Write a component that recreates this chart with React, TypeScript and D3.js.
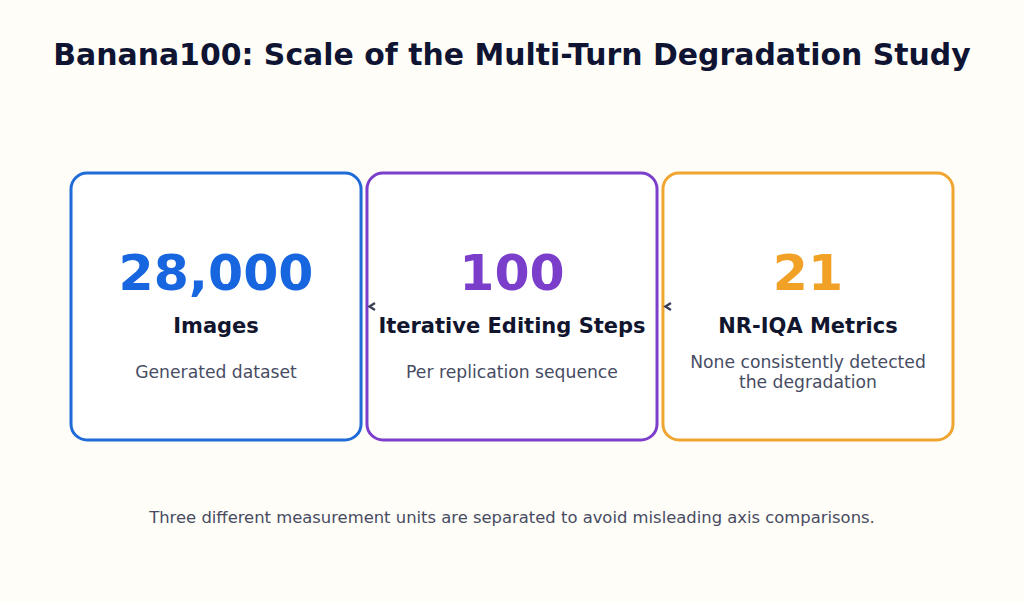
import { scaleBand, scaleLinear } from "d3";

const categories = ["Images", "Iterative Editing Steps", "NR-IQA Metrics"];
const values = ["28,000", "100", "21"];
const descriptions = [
  ["Generated dataset"],
  ["Per replication sequence"],
  ["None consistently detected", "the degradation"]
];
const colors = ["#1f6bd8", "#7c3fcb", "#f0a530"];
const numberColors = ["#1766e0", "#7a3ecb", "#f2a127"];

const title = "Banana100: Scale of the Multi-Turn Degradation Study";
const footnote =
  "Three different measurement units are separated to avoid misleading axis comparisons.";

const width = 1024;
const height = 602;
const fontFamily = "'DejaVu Sans', Verdana, sans-serif";

function App() {
  const x = scaleBand<string>()
    .domain(categories)
    .range([71, 953])
    .paddingInner(0.02)
    .paddingOuter(0);

  // vertical layout in card-relative units (0 = card top, 1 = card bottom)
  const y = scaleLinear().domain([0, 1]).range([173, 440]);

  return (
    <div style={{ position: "fixed", left: 0, top: 0 }}>
      <svg width={width} height={height} style={{ display: "block" }}>
        <rect x={0} y={0} width={width} height={height} fill="#fffdf7" />
        <text
          x={width / 2}
          y={65}
          textAnchor="middle"
          fontFamily={fontFamily}
          fontWeight="bold"
          fontSize={29.9}
          fill="#0f1433"
        >
          {title}
        </text>
        {categories.map((cat, i) => {
          const x0 = x(cat) ?? 0;
          const cx = x0 + x.bandwidth() / 2;
          const lines = descriptions[i];
          const descStart = lines.length > 1 ? 0.731 : 0.767;
          return (
            <g key={cat}>
              <rect
                x={x0}
                y={y(0)}
                width={x.bandwidth()}
                height={y(1) - y(0)}
                rx={16}
                ry={16}
                fill="#ffffff"
                stroke={colors[i]}
                strokeWidth={3}
              />
              <text
                x={cx}
                y={y(0.438)}
                textAnchor="middle"
                fontFamily={fontFamily}
                fontWeight="bold"
                fontSize={50.5}
                fill={numberColors[i]}
              >
                {values[i]}
              </text>
              <text
                x={cx}
                y={y(0.598)}
                textAnchor="middle"
                fontFamily={fontFamily}
                fontWeight="bold"
                fontSize={21}
                fill="#11152e"
              >
                {cat}
              </text>
              {lines.map((line, j) => (
                <text
                  key={line}
                  x={cx}
                  y={y(descStart) + j * 20}
                  textAnchor="middle"
                  fontFamily={fontFamily}
                  fontSize={17.2}
                  fill="#474c63"
                >
                  {line}
                </text>
              ))}
              {i > 0 ? (
                <path
                  d={`M${x0 + 8},${y(0.5) - 3.5} L${x0 + 2.5},${y(0.5)} L${x0 + 8},${y(0.5) + 3.5}`}
                  fill="none"
                  stroke="#3b4058"
                  strokeWidth={2.4}
                />
              ) : null}
            </g>
          );
        })}
        <text
          x={512}
          y={523}
          textAnchor="middle"
          fontFamily={fontFamily}
          fontSize={16.4}
          fill="#474c63"
        >
          {footnote}
        </text>
      </svg>
    </div>
  );
}

export default App;
